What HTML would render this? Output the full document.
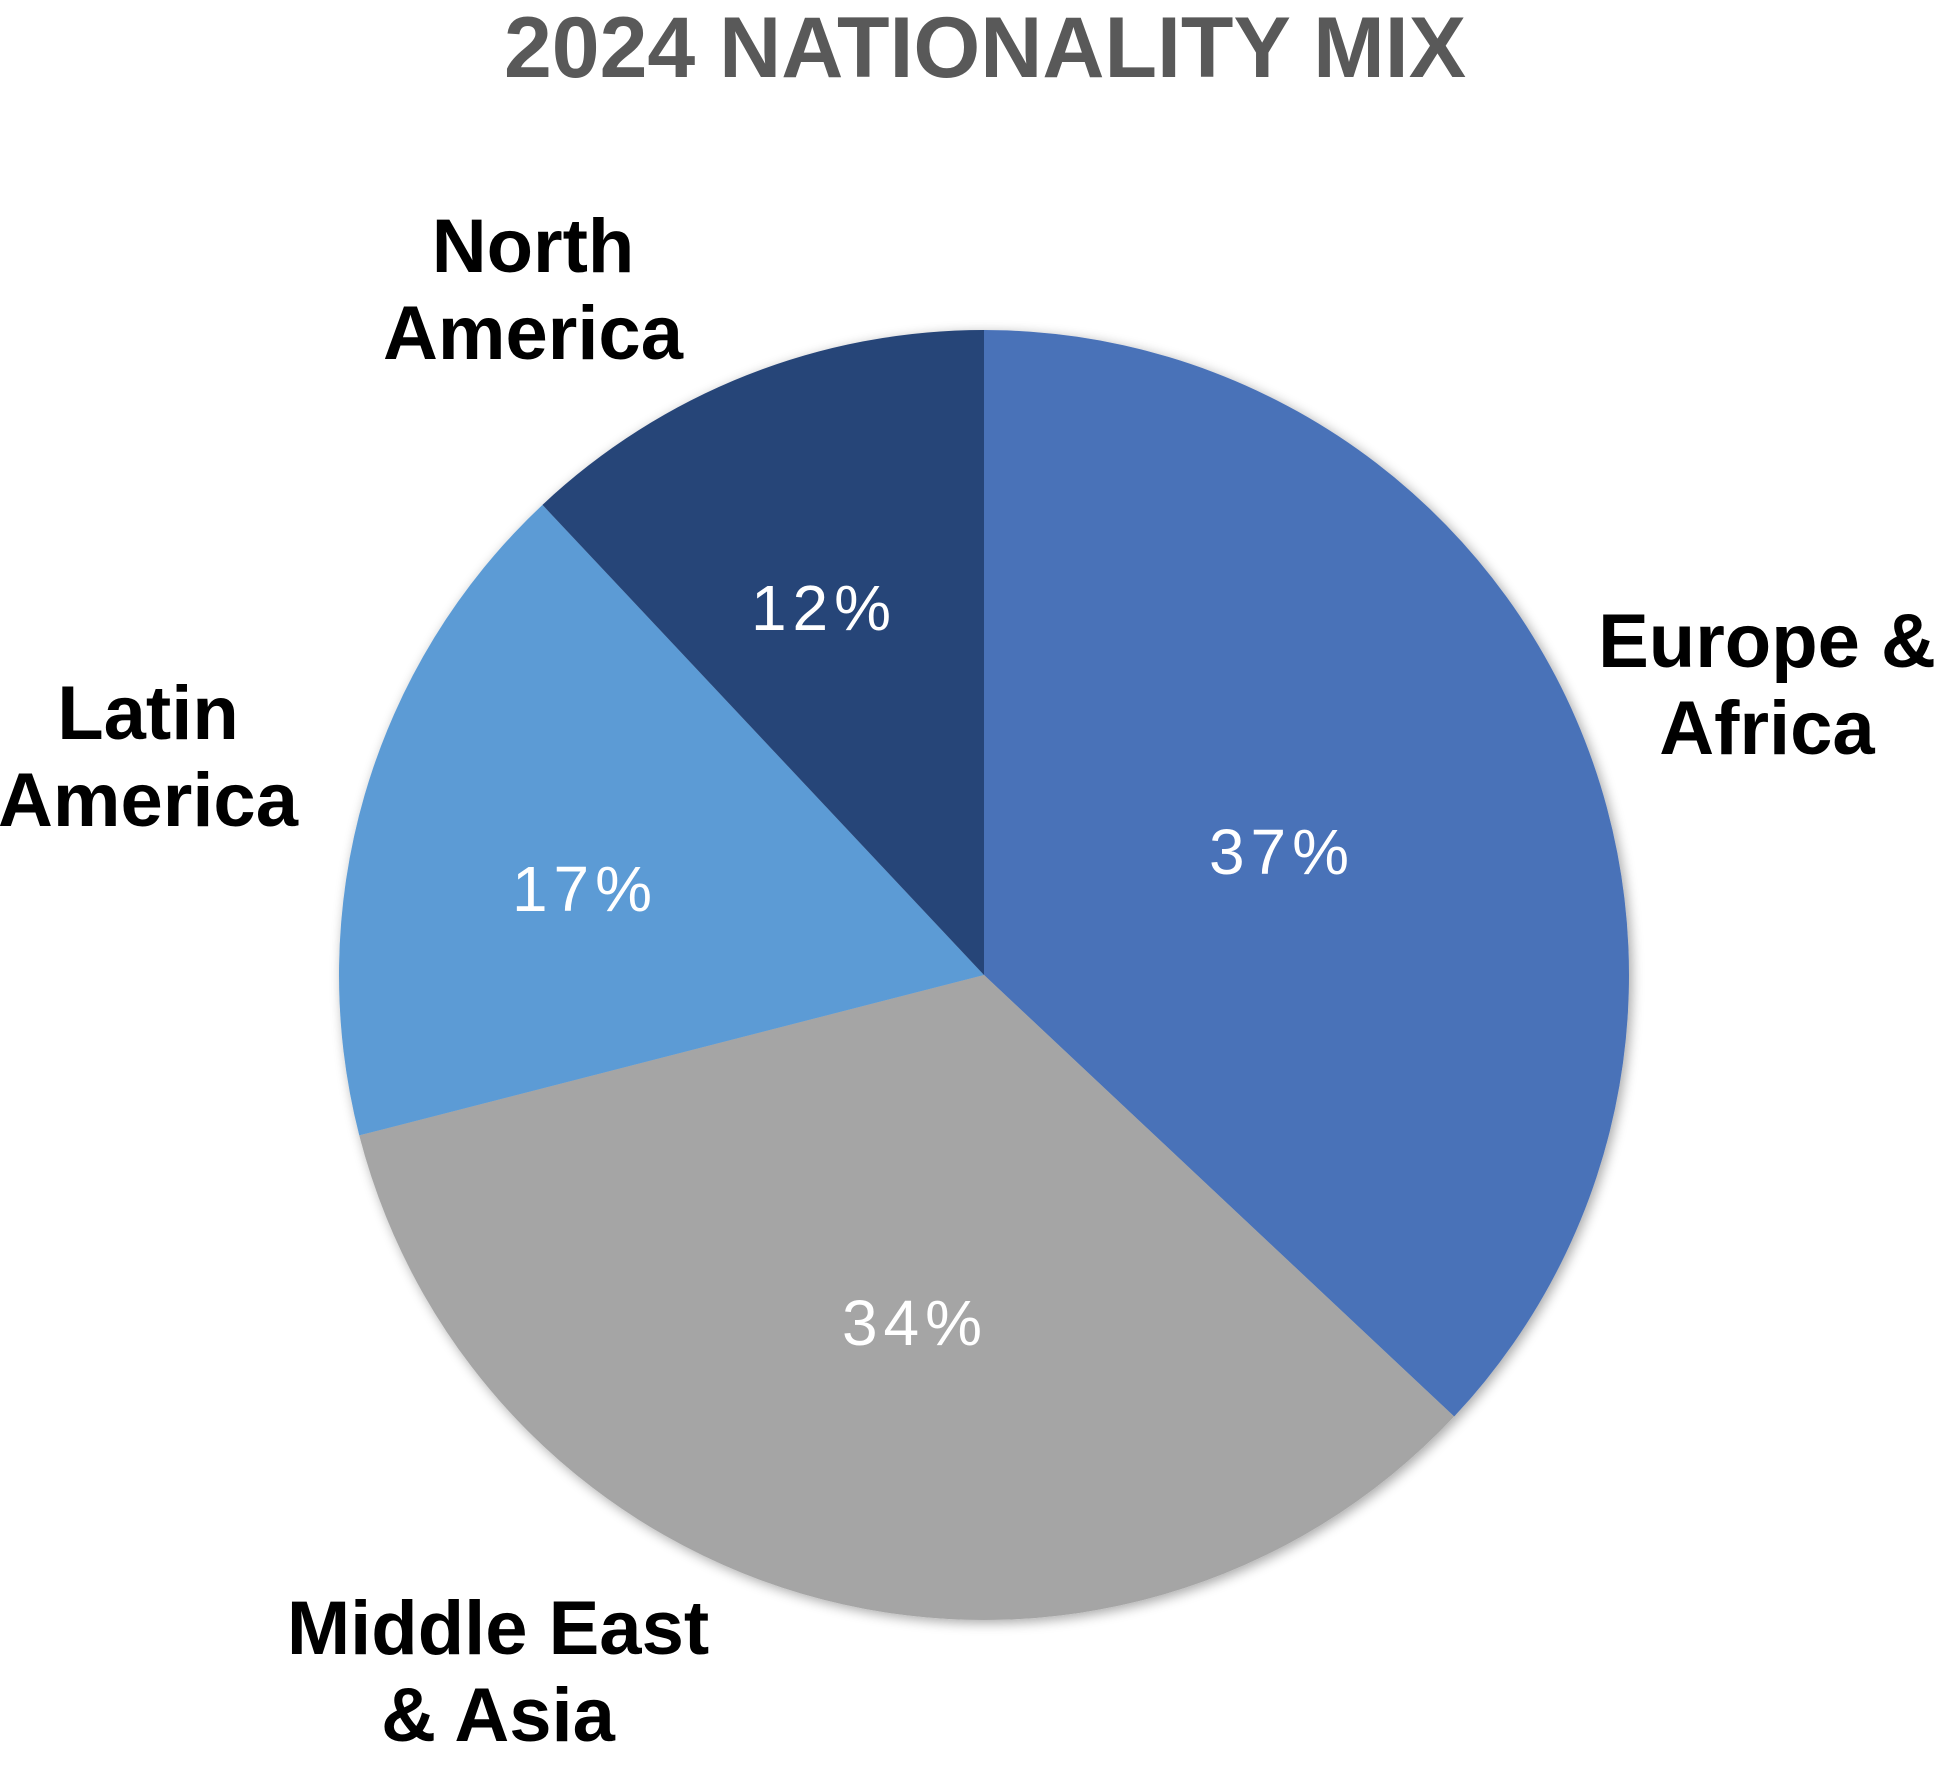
<!DOCTYPE html>
<html><head><meta charset="utf-8"><style>
html,body{margin:0;padding:0;background:#fff;}
svg{display:block;}
</style></head><body>
<svg id="chart" width="1938" height="1771" viewBox="0 0 1938 1771" xmlns="http://www.w3.org/2000/svg">
<defs><filter id="sh" x="-10%" y="-10%" width="120%" height="120%"><feGaussianBlur in="SourceAlpha" stdDeviation="6"/><feOffset dx="3" dy="3"/><feComponentTransfer><feFuncA type="linear" slope="0.35"/></feComponentTransfer><feMerge><feMergeNode/><feMergeNode in="SourceGraphic"/></feMerge></filter></defs>
<text x="985" y="77" text-anchor="middle" font-family="Liberation Sans, sans-serif" font-weight="bold" font-size="86" fill="#595959">2024 NATIONALITY MIX</text>
<g id="slices" filter="url(#sh)"></g>
<g id="labels"></g>
</svg>
<script>
const categories = ["Europe & Africa", "Middle East & Asia", "Latin America", "North America"];
const values = [37, 34, 17, 12];
const colors = ["#4a72b8", "#a5a5a5", "#5b9bd5", "#264478"];
const catLines = [["Europe &","Africa"],["Middle East","& Asia"],["Latin","America"],["North","America"]];
const catPos = [[1767,667],[498,1654],[148,739],[533,272]];
const pctPos = [[1282,874],[915,1345],[585,911],[824,630]];
const NS="http://www.w3.org/2000/svg";
const cx=984, cy=975, r=645;
const total=values.reduce((a,b)=>a+b,0);
const gS=document.getElementById('slices'), gL=document.getElementById('labels');
function pt(a){return [cx+r*Math.sin(a), cy-r*Math.cos(a)];}
let a0=0;
values.forEach((v,i)=>{
  const a1=a0+v/total*2*Math.PI;
  const p0=pt(a0), p1=pt(a1);
  const large=(a1-a0)>Math.PI?1:0;
  const p=document.createElementNS(NS,'path');
  p.setAttribute('d',`M${cx},${cy} L${p0[0]},${p0[1]} A${r},${r} 0 ${large} 1 ${p1[0]},${p1[1]} Z`);
  p.setAttribute('fill',colors[i]);
  
  
  gS.appendChild(p);
  a0=a1;
  const t=document.createElementNS(NS,'text');
  t.setAttribute('x',pctPos[i][0]); t.setAttribute('y',pctPos[i][1]);
  t.setAttribute('text-anchor','middle');
  t.setAttribute('font-family','Liberation Sans, sans-serif');
  t.setAttribute('font-size','64'); t.setAttribute('fill','#fff');
  t.setAttribute('letter-spacing','6');
  
  
  t.textContent=v+'%';
  gL.appendChild(t);
  catLines[i].forEach((ln,j)=>{
    const c=document.createElementNS(NS,'text');
    c.setAttribute('x',catPos[i][0]); c.setAttribute('y',catPos[i][1]+j*87);
    c.setAttribute('text-anchor','middle');
    c.setAttribute('font-family','Liberation Sans, sans-serif');
    c.setAttribute('font-weight','bold');
    c.setAttribute('font-size','76'); c.setAttribute('fill','#000');
    
    
    c.textContent=ln;
    gL.appendChild(c);
  });
});
</script>
</body></html>
